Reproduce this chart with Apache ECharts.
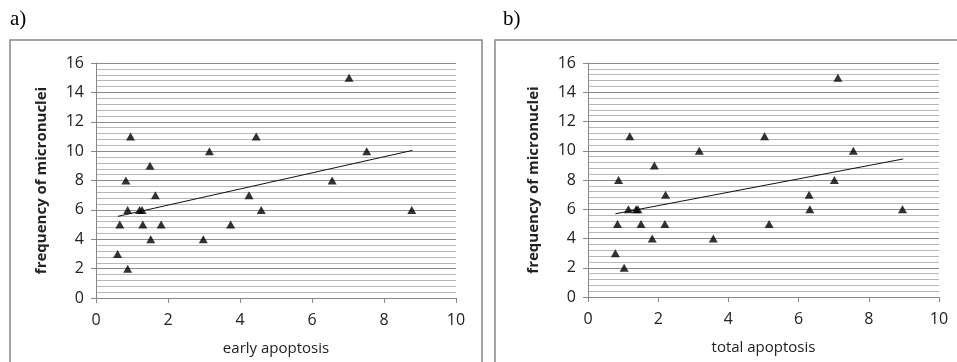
<!DOCTYPE html>
<html>
<head>
<meta charset="utf-8">
<script src="https://cdn.jsdelivr.net/npm/echarts@6/dist/echarts.min.js"></script>
<style>
  html, body { margin: 0; padding: 0; background: #fff; }
  #chart { width: 957px; height: 362px; }
</style>
</head>
<body>
<div id="chart"></div>
<script>
// panel a) early apoptosis vs micronuclei
const earlyX = [7.03, 0.96, 4.45, 3.15, 7.52, 1.5, 0.83, 6.56, 1.65, 4.25, 0.88, 1.21, 1.28, 4.59, 8.77, 0.66, 1.3, 1.81, 3.74, 1.52, 2.98, 0.6, 0.88];
const earlyY = [15, 11, 11, 10, 10, 9, 8, 8, 7, 7, 6, 6, 6, 6, 6, 5, 5, 5, 5, 4, 4, 3, 2];
const earlyTrendX = [0.61, 8.79];
const earlyTrendY = [5.56, 10.05];

// panel b) total apoptosis vs micronuclei
const totalX = [7.12, 1.19, 5.03, 3.17, 7.56, 1.89, 0.87, 7.02, 2.21, 6.3, 1.15, 1.37, 1.42, 6.32, 8.96, 0.84, 1.51, 2.19, 5.16, 1.83, 3.57, 0.78, 1.03];
const totalY = [15, 11, 11, 10, 10, 9, 8, 8, 7, 7, 6, 6, 6, 6, 6, 5, 5, 5, 5, 4, 4, 3, 2];
const totalTrendX = [0.78, 8.98];
const totalTrendY = [5.69, 9.44];

const panelLabels = ["a)", "b)"];
const xNames = ["early apoptosis", "total apoptosis"];
const yName = "frequency of micronuclei";

const font = "'Open Sans', sans-serif";
const zip = (xs, ys) => xs.map((x, i) => [x, ys[i]]);

const chart = echarts.init(document.getElementById("chart"));

const makeX = (idx) => ({
  type: "value",
  gridIndex: idx,
  min: 0,
  max: 10,
  interval: 2,
  name: xNames[idx],
  nameLocation: "middle",
  nameGap: 43,
  nameTextStyle: { fontFamily: font, fontSize: 15, color: "#222" },
  axisLine: { show: true, lineStyle: { color: "#888", width: 1 } },
  axisTick: { show: true, length: 5, lineStyle: { color: "#888" } },
  axisLabel: { fontFamily: font, fontSize: 16, color: "#222", margin: 14 },
  splitLine: { show: false },
});

const makeY = (idx) => ({
  type: "value",
  gridIndex: idx,
  min: 0,
  max: 16,
  interval: 2,
  name: yName,
  nameLocation: "middle",
  nameGap: 47,
  nameTextStyle: { fontFamily: font, fontSize: 15, fontWeight: "bold", color: "#222" },
  axisLine: { show: true, lineStyle: { color: "#888", width: 1 } },
  axisTick: { show: true, length: 5, lineStyle: { color: "#888" } },
  axisLabel: { fontFamily: font, fontSize: 16, color: "#222", margin: 12 },
  splitLine: { show: true, lineStyle: { color: "#8c8c8c", width: 1 } },
  minorTick: { show: false, splitNumber: 5 },
  minorSplitLine: { show: true, lineStyle: { color: "#b8b8b8", width: 1 } },
});

const scatter = (idx, data) => ({
  type: "scatter",
  xAxisIndex: idx,
  yAxisIndex: idx,
  data: data,
  symbol: "triangle",
  symbolSize: [9, 8],
  itemStyle: { color: "#000" },
  z: 5,
});

const trend = (idx, data) => ({
  type: "line",
  xAxisIndex: idx,
  yAxisIndex: idx,
  data: data,
  showSymbol: false,
  symbol: "none",
  lineStyle: { color: "#111", width: 1 },
  z: 4,
});

chart.setOption({
  animation: false,
  backgroundColor: "#fff",
  grid: [
    { left: 96, right: 501, top: 63, bottom: 64 },
    { left: 588, right: 18, top: 63, bottom: 65 },
  ],
  xAxis: [makeX(0), makeX(1)],
  yAxis: [makeY(0), makeY(1)],
  graphic: [
    { type: "rect", shape: { x: 10, y: 40, width: 472, height: 340 }, style: { fill: "none", stroke: "#888", lineWidth: 1.5 }, z: 0 },
    { type: "rect", shape: { x: 495, y: 40, width: 470, height: 340 }, style: { fill: "none", stroke: "#888", lineWidth: 1.5 }, z: 0 },
    { type: "text", left: 10, top: 9, style: { text: panelLabels[0], font: "21px 'Liberation Serif', serif", fill: "#000" } },
    { type: "text", left: 503, top: 9, style: { text: panelLabels[1], font: "21px 'Liberation Serif', serif", fill: "#000" } },
  ],
  series: [
    trend(0, zip(earlyTrendX, earlyTrendY)),
    scatter(0, zip(earlyX, earlyY)),
    trend(1, zip(totalTrendX, totalTrendY)),
    scatter(1, zip(totalX, totalY)),
  ],
});
</script>
</body>
</html>
